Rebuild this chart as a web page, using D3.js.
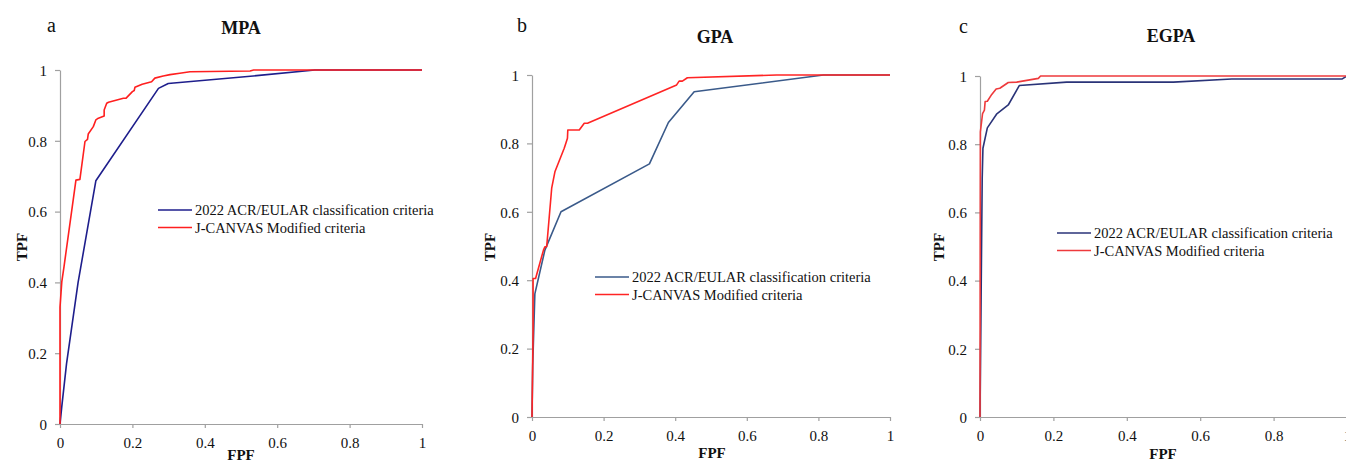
<!DOCTYPE html>
<html><head><meta charset="utf-8">
<script src="https://cdn.jsdelivr.net/npm/d3@7"></script>
<style>
html,body{margin:0;padding:0;background:#fff;overflow:hidden}
svg{display:block}
text{font-family:"Liberation Serif","DejaVu Serif","Times New Roman",serif;fill:#111}
</style></head>
<body>
<script>
// ---------- data ----------
const panelLetters = ["a","b","c"];
const panelTitles = ["MPA","GPA","EGPA"];
const seriesNames = ["2022 ACR/EULAR classification criteria","J-CANVAS Modified criteria"];
const tickValues = [0,0.2,0.4,0.6,0.8,1];
const tickLabels = ["0","0.2","0.4","0.6","0.8","1"];
const xLabel = "FPF", yLabel = "TPF";

// MPA
const mpaAcr = [[0,0],[0.005,0.05],[0.018,0.17],[0.05,0.40],[0.099,0.687],[0.272,0.948],[0.299,0.962],[0.543,0.984],[0.704,1],[1,1]];
const mpaJc = [[0,0],[0,0.33],[0.005,0.402],[0.011,0.444],[0.044,0.689],[0.055,0.691],[0.069,0.798],[0.076,0.804],[0.078,0.819],[0.092,0.84],[0.099,0.859],[0.106,0.864],[0.122,0.870],[0.122,0.887],[0.129,0.906],[0.134,0.909],[0.175,0.920],[0.182,0.920],[0.2,0.939],[0.205,0.942],[0.207,0.951],[0.227,0.960],[0.253,0.967],[0.262,0.977],[0.285,0.983],[0.304,0.987],[0.331,0.991],[0.359,0.995],[0.525,0.997],[0.535,1],[1,1]];
// GPA
const gpaAcr = [[0,0],[0.002,0.15],[0.008,0.36],[0.036,0.488],[0.081,0.60],[0.328,0.74],[0.381,0.861],[0.453,0.951],[0.814,1],[1,1]];
const gpaJc = [[0,0],[0.003,0.25],[0.003,0.405],[0.01,0.405],[0.032,0.488],[0.036,0.498],[0.041,0.498],[0.043,0.522],[0.055,0.669],[0.064,0.717],[0.09,0.786],[0.095,0.802],[0.099,0.815],[0.10,0.839],[0.132,0.839],[0.146,0.859],[0.155,0.859],[0.404,0.971],[0.411,0.982],[0.42,0.982],[0.434,0.992],[0.683,1],[1,1]];
// EGPA
const egpaAcr = [[0,0],[0.003,0.35],[0.006,0.70],[0.008,0.788],[0.02,0.848],[0.045,0.888],[0.077,0.915],[0.107,0.972],[0.236,0.982],[0.527,0.982],[0.686,0.991],[0.986,0.991],[1,1]];
const egpaJc = [[0,0],[0.001,0.836],[0.007,0.89],[0.012,0.90],[0.014,0.925],[0.02,0.926],[0.032,0.946],[0.044,0.962],[0.054,0.964],[0.077,0.981],[0.10,0.982],[0.159,0.993],[0.165,1],[1,1]];

const panelData = [[mpaAcr,mpaJc],[gpaAcr,gpaJc],[egpaAcr,egpaJc]];

// ---------- layout / style ----------
const W=1346,H=463;
const layout = [
  {x0:60,x1:422,y0:424,y1:70, letter:[47,32], title:[241,34], tpf:[22,247], fpf:[241,460], legend:[158,210], blue:"#1e1e8c", red:"#ff1f1f"},
  {x0:532,x1:890,y0:417,y1:75, letter:[517,32], title:[715,43], tpf:[490,247], fpf:[712,458], legend:[595,277], blue:"#3a5a8a", red:"#ff2424"},
  {x0:980,x1:1347,y0:417,y1:76, letter:[959,33], title:[1171,42], tpf:[939,247], fpf:[1163,459], legend:[1057,233], blue:"#2a3378", red:"#ee3a3c"}
];

const svg=d3.select("body").append("svg").attr("width",W).attr("height",H);
svg.append("rect").attr("width",W).attr("height",H).attr("fill","#fff");

layout.forEach((L,i)=>{
  const x=d3.scaleLinear().domain([0,1]).range([L.x0,L.x1]);
  const y=d3.scaleLinear().domain([0,1]).range([L.y0,L.y1]);
  const g=svg.append("g");
  const fmt=(d)=>tickLabels[tickValues.indexOf(d)];

  const xa=g.append("g").attr("transform",`translate(0,${L.y0})`)
    .call(d3.axisBottom(x).tickValues(tickValues).tickFormat(fmt).tickSizeInner(4).tickSizeOuter(0).tickPadding(6));
  const ya=g.append("g").attr("transform",`translate(${L.x0},0)`)
    .call(d3.axisLeft(y).tickValues(tickValues).tickFormat(fmt).tickSizeInner(5).tickSizeOuter(0).tickPadding(8));
  [xa,ya].forEach(a=>{
    a.attr("font-family",null);
    a.select(".domain").attr("stroke","#a0a0a0").attr("stroke-width",1.2);
    a.selectAll(".tick line").attr("stroke","#a0a0a0").attr("stroke-width",1.2);
    a.selectAll(".tick text").attr("font-size",15).attr("fill","#222");
  });
  xa.selectAll(".tick text").attr("dy","0.9em");
  ya.selectAll(".tick text").attr("dy","0.35em");

  const line=d3.line().x(d=>x(d[0])).y(d=>y(d[1]));
  const cols=[L.blue,L.red];
  panelData[i].forEach((s,j)=>{
    g.append("path").datum(s).attr("d",line).attr("fill","none")
      .attr("stroke",cols[j]).attr("stroke-width",1.6).attr("stroke-linejoin","round");
  });
  // legend
  seriesNames.forEach((n,j)=>{
    const ly=L.legend[1]+j*17.5;
    g.append("line").attr("x1",L.legend[0]).attr("x2",L.legend[0]+34).attr("y1",ly).attr("y2",ly)
      .attr("stroke",cols[j]).attr("stroke-width",1.6);
    g.append("text").attr("x",L.legend[0]+37).attr("y",ly+5).attr("font-size",14.5).text(n);
  });
  // titles
  g.append("text").attr("x",L.letter[0]).attr("y",L.letter[1]).attr("font-size",20).text(panelLetters[i]);
  g.append("text").attr("x",L.title[0]).attr("y",L.title[1]).attr("text-anchor","middle")
    .attr("font-size",18).attr("font-weight","bold").text(panelTitles[i]);
  g.append("text").attr("x",L.fpf[0]).attr("y",L.fpf[1]).attr("text-anchor","middle")
    .attr("font-size",15).attr("font-weight","bold").text(xLabel);
  g.append("text").attr("transform",`translate(${L.tpf[0]+5},${L.tpf[1]}) rotate(-90)`).attr("text-anchor","middle")
    .attr("font-size",15).attr("font-weight","bold").text(yLabel);
});
</script>
</body></html>
